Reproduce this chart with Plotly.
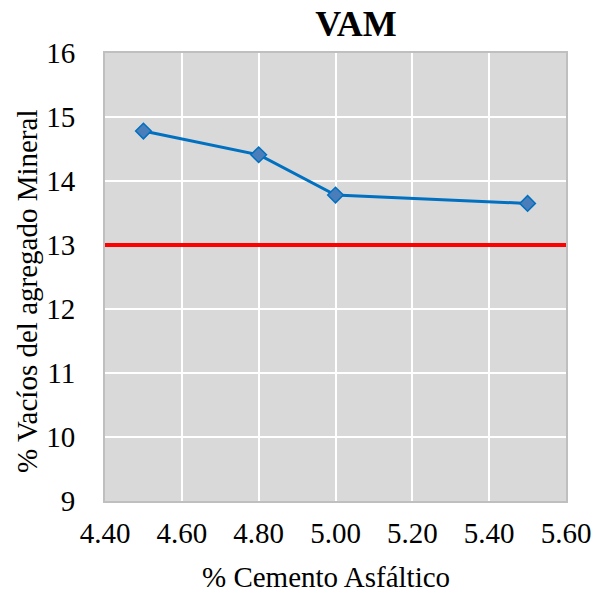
import plotly.graph_objects as go

x_vals = [4.5, 4.8, 5.0, 5.5]
vam_vals = [14.78, 14.41, 13.78, 13.65]
limit_x = [4.4, 5.6]
limit_y = [13, 13]
x_ticks = [4.4, 4.6, 4.8, 5.0, 5.2, 5.4, 5.6]
x_tick_text = ["4.40", "4.60", "4.80", "5.00", "5.20", "5.40", "5.60"]
y_ticks = [9, 10, 11, 12, 13, 14, 15, 16]
title_text = "VAM"
x_title = "% Cemento Asfáltico"
y_title = "% Vacíos del agregado Mineral"

FONT = "Liberation Serif"
tfont = dict(family=FONT, size=29, color="black")

W, H = 605, 592
L, R, T, B = 105, 566, 53, 501
pw, ph = R - L, B - T

fig = go.Figure()
fig.add_trace(go.Scatter(x=limit_x, y=limit_y, mode="lines",
                         line=dict(color="#ff0000", width=4), showlegend=False,
                         cliponaxis=False))
fig.add_trace(go.Scatter(x=x_vals, y=vam_vals, mode="lines+markers",
                         line=dict(color="#0070c0", width=3),
                         marker=dict(symbol="diamond", size=12, color="#4a7ebb",
                                     line=dict(color="#0070c0", width=1.5)),
                         showlegend=False, cliponaxis=False))

fig.update_layout(
    width=W, height=H,
    margin=dict(l=L, r=W - R, t=T, b=H - B),
    paper_bgcolor="white", plot_bgcolor="#d9d9d9",
    font=tfont,
    title=dict(text="<b>" + title_text + "</b>", x=356 / W, xanchor="center",
               y=1 - 23 / H, yanchor="middle",
               font=dict(family=FONT, size=36, color="black")),
    xaxis=dict(range=[4.4, 5.6], tickvals=x_ticks, ticktext=x_tick_text,
               tickfont=tfont, automargin=False,
               showgrid=True, gridcolor="white", gridwidth=2,
               showline=True, linecolor="#bfbfbf", linewidth=2, mirror=True,
               zeroline=False, ticks="", ticklabelstandoff=5),
    yaxis=dict(range=[9, 16], tickvals=y_ticks, tickfont=tfont, automargin=False,
               showgrid=True, gridcolor="white", gridwidth=2,
               showline=True, linecolor="#bfbfbf", linewidth=2, mirror=True,
               zeroline=False, ticks="", ticklabelstandoff=22),
    annotations=[
        dict(text=x_title, xref="paper", yref="paper",
             x=(326 - L) / pw, y=(B - 577) / ph, xanchor="center", yanchor="middle",
             showarrow=False, font=tfont),
        dict(text=y_title, xref="paper", yref="paper", textangle=-90,
             x=(27 - L) / pw, y=(B - 292) / ph, xanchor="center", yanchor="middle",
             showarrow=False, font=tfont),
    ],
)

fig.write_html("out.html")
